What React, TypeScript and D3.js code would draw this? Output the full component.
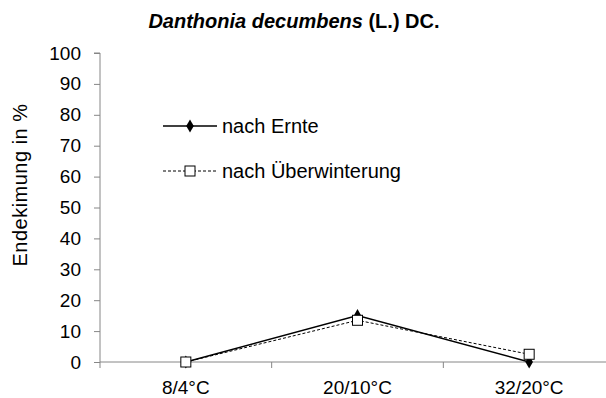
import React, { useLayoutEffect, useRef } from 'react';
import * as d3 from 'd3';

const categories = ['8/4°C', '20/10°C', '32/20°C'];
const nachErnte = [0, 15, 0];
const nachUeberwinterung = [0, 13.5, 2.5];
const yTicks = [0, 10, 20, 30, 40, 50, 60, 70, 80, 90, 100];

const width = 606;
const height = 398;
const margin = { top: 53, left: 100, bottom: 36 };
const axisColor = '#868686';
const font = '"Liberation Sans", Arial, sans-serif';

const chart = (container: HTMLDivElement) => {
  d3.select(container).selectAll('*').remove();
  const svg = d3
    .select(container)
    .append('svg')
    .attr('width', width)
    .attr('height', height)
    .style('position', 'absolute')
    .style('left', '0px')
    .style('top', '0px')
    .style('background', '#fff');

  const x = d3
    .scaleBand<string>()
    .domain(categories)
    .range([margin.left, 615])
    .padding(0);
  const y = d3
    .scaleLinear()
    .domain([0, 100])
    .range([height - margin.bottom, margin.top]);
  const cx = (c: string) => (x(c) as number) + x.bandwidth() / 2;

  // title
  const title = svg
    .append('text')
    .attr('x', 294)
    .attr('y', 28)
    .attr('text-anchor', 'middle')
    .style('font-family', font)
    .style('font-size', '20px')
    .style('font-weight', 'bold');
  title.append('tspan').style('font-style', 'italic').text('Danthonia decumbens');
  title.append('tspan').text(' (L.) DC.');

  // y axis
  const yAxis = d3
    .axisLeft(y)
    .tickValues(yTicks)
    .tickSize(6)
    .tickPadding(13);
  const gy = svg
    .append('g')
    .attr('transform', `translate(${margin.left},0)`)
    .call(yAxis);
  gy.select('.domain').attr('stroke', axisColor).attr('d', `M-6,${y(100)}H0V${y(0)}`);
  gy.selectAll('.tick line').attr('stroke', axisColor);
  gy.selectAll('.tick text')
    .attr('fill', '#000')
    .style('font-family', font)
    .style('font-size', '19px');

  // x axis
  const gx = svg.append('g').attr('transform', `translate(0,${y(0)})`);
  gx.append('line')
    .attr('x1', margin.left)
    .attr('x2', 615)
    .attr('stroke', axisColor);
  const bounds = [...categories.map((c) => x(c) as number), 615];
  gx.selectAll('line.tick')
    .data(bounds)
    .join('line')
    .attr('class', 'tick')
    .attr('x1', (d) => d)
    .attr('x2', (d) => d)
    .attr('y1', 0)
    .attr('y2', 6)
    .attr('stroke', axisColor);
  gx.selectAll('text')
    .data(categories)
    .join('text')
    .attr('x', (d) => cx(d))
    .attr('y', 32)
    .attr('text-anchor', 'middle')
    .style('font-family', font)
    .style('font-size', '19px')
    .text((d) => d);

  // y label
  svg
    .append('text')
    .attr('transform', `translate(27,${185}) rotate(-90)`)
    .attr('text-anchor', 'middle')
    .style('font-family', font)
    .style('font-size', '20px')
    .style('letter-spacing', '0.5px')
    .text('Endekimung in %');

  const line = d3
    .line<number>()
    .x((_, i) => cx(categories[i]))
    .y((d) => y(d));

  const diamond = d3.symbol().type(d3.symbolDiamond).size(50);

  // nach Ernte
  svg
    .append('path')
    .datum(nachErnte)
    .attr('d', line)
    .attr('fill', 'none')
    .attr('stroke', '#000')
    .attr('stroke-width', 1.5);
  svg
    .selectAll('path.ernte')
    .data(nachErnte)
    .join('path')
    .attr('class', 'ernte')
    .attr('transform', (d, i) => `translate(${cx(categories[i])},${y(d)})`)
    .attr('d', diamond)
    .attr('fill', '#000');

  // nach Überwinterung
  svg
    .append('path')
    .datum(nachUeberwinterung)
    .attr('d', line)
    .attr('fill', 'none')
    .attr('stroke', '#000')
    .attr('stroke-width', 1)
    .attr('stroke-dasharray', '3,2');
  svg
    .selectAll('rect.ueber')
    .data(nachUeberwinterung)
    .join('rect')
    .attr('class', 'ueber')
    .attr('x', (d, i) => cx(categories[i]) - 5)
    .attr('y', (d) => y(d) - 5)
    .attr('width', 10)
    .attr('height', 10)
    .attr('fill', '#fff')
    .attr('stroke', '#000')
    .attr('stroke-width', 1);

  // legend
  const legend = svg.append('g');
  const l1 = legend.append('g').attr('transform', 'translate(163,126)');
  l1.append('line').attr('x1', 0).attr('x2', 54).attr('stroke', '#000').attr('stroke-width', 1.5);
  l1.append('path').attr('transform', 'translate(27,0)').attr('d', diamond).attr('fill', '#000');
  l1.append('text')
    .attr('x', 59)
    .attr('y', 7)
    .style('font-family', font)
    .style('font-size', '20px')
    .text('nach Ernte');

  const l2 = legend.append('g').attr('transform', 'translate(163,171)');
  l2.append('line')
    .attr('x1', 0)
    .attr('x2', 54)
    .attr('stroke', '#000')
    .attr('stroke-width', 1)
    .attr('stroke-dasharray', '3,2');
  l2.append('rect')
    .attr('x', 22)
    .attr('y', -5)
    .attr('width', 10)
    .attr('height', 10)
    .attr('fill', '#fff')
    .attr('stroke', '#000');
  l2.append('text')
    .attr('x', 59)
    .attr('y', 7)
    .style('font-family', font)
    .style('font-size', '20px')
    .text('nach Überwinterung');
};

const App: React.FC = () => {
  const rootEl = useRef<HTMLDivElement>(null);

  useLayoutEffect(() => {
    if (rootEl.current) chart(rootEl.current);
  }, []);

  return <div ref={rootEl} />;
};

export default App;
